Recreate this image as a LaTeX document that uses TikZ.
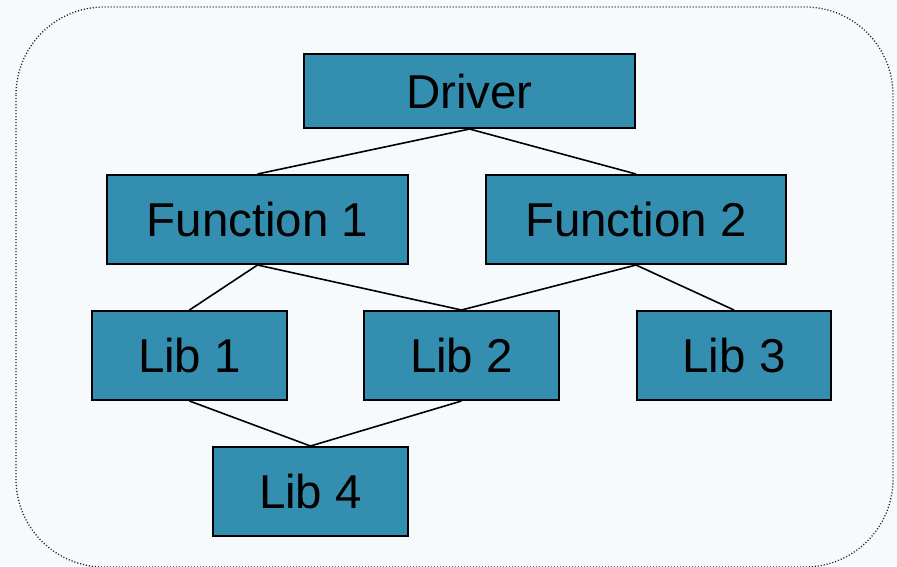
\documentclass[tikz,border=0pt]{standalone}
\usepackage{fontspec}
\setmainfont{Liberation Sans}
\definecolor{pagebg}{HTML}{F6FAFD}
\definecolor{boxfill}{HTML}{348EB0}
\definecolor{frameclr}{HTML}{202020}
\begin{document}
\begin{tikzpicture}[x=1pt,y=-1pt,
  box/.style={draw=black,line width=2pt,fill=boxfill,rectangle,inner sep=0pt,
    minimum height=89pt,font=\fontsize{47.5}{50}\selectfont,text=black,
    text height=34pt,text depth=-5pt},
  link/.style={draw=black,line width=1.6pt}]
\fill[pagebg] (0,0) rectangle (897,566);
\useasboundingbox (0,0) rectangle (897,566);
\draw[frameclr,line width=1.3pt,dash pattern=on 1.1pt off 1.9pt,rounded corners=88pt]
  (16,7) rectangle (893,567);
\node[box,minimum width=331pt,minimum height=74pt] (drv) at (469.5,91) {Driver};
\node[box,minimum width=301pt] (f1) at (257.5,219.5) {Function 1};
\node[box,minimum width=300pt] (f2) at (636,219.5) {Function 2};
\node[box,minimum width=195pt] (l1) at (189.5,355.5) {Lib 1};
\node[box,minimum width=195pt] (l2) at (461.5,355.5) {Lib 2};
\node[box,minimum width=194pt] (l3) at (734,355.5) {Lib 3};
\node[box,minimum width=195pt] (l4) at (310.5,491.5) {Lib 4};
\draw[link] (drv.south) -- (f1.north);
\draw[link] (drv.south) -- (f2.north);
\draw[link] (f1.south) -- (l1.north);
\draw[link] (f1.south) -- (l2.north);
\draw[link] (f2.south) -- (l2.north);
\draw[link] (f2.south) -- (l3.north);
\draw[link] (l1.south) -- (l4.north);
\draw[link] (l2.south) -- (l4.north);
\end{tikzpicture}
\end{document}
